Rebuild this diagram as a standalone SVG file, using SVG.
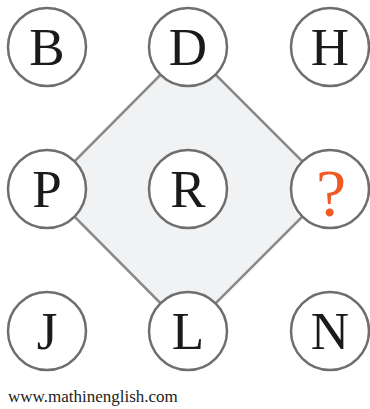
<svg xmlns="http://www.w3.org/2000/svg" width="370" height="409" viewBox="0 0 370 409">
<style>
.n circle{fill:#fff;stroke:#6e6e6e;stroke-width:2.5}
.n text{font-family:"Liberation Serif","Times New Roman",serif;font-size:53px;fill:#1a1a1a;text-anchor:middle}
.c{fill:#f1f2f4;stroke:#8a8a8a;stroke-width:2.5}
</style>
<rect width="370" height="409" fill="#fff"/>
<g id="connectors">
<polygon class="c" points="188,47 330,189 188,331 47,189"/>
</g>
<g id="B" class="n"><circle cx="47" cy="47" r="39"/><text x="47" y="65">B</text></g>
<g id="D" class="n"><circle cx="188" cy="47" r="39"/><text x="188" y="65">D</text></g>
<g id="H" class="n"><circle cx="330" cy="47" r="39"/><text x="330" y="65">H</text></g>
<g id="P" class="n"><circle cx="47" cy="189" r="39"/><text x="47" y="207">P</text></g>
<g id="R" class="n"><circle cx="188" cy="189" r="39"/><text x="188" y="207">R</text></g>
<g id="Q" class="n"><circle cx="330" cy="189" r="39"/><text x="331" y="216" style="fill:#ef5a24;font-size:68px">?</text></g>
<g id="J" class="n"><circle cx="47" cy="331" r="39"/><text x="47" y="349">J</text></g>
<g id="L" class="n"><circle cx="188" cy="331" r="39"/><text x="188" y="349">L</text></g>
<g id="N" class="n"><circle cx="330" cy="331" r="39"/><text x="330" y="349">N</text></g>
<text x="8" y="402" font-family="Liberation Serif,Times New Roman,serif" font-size="17" fill="#222">www.mathinenglish.com</text>
</svg>
